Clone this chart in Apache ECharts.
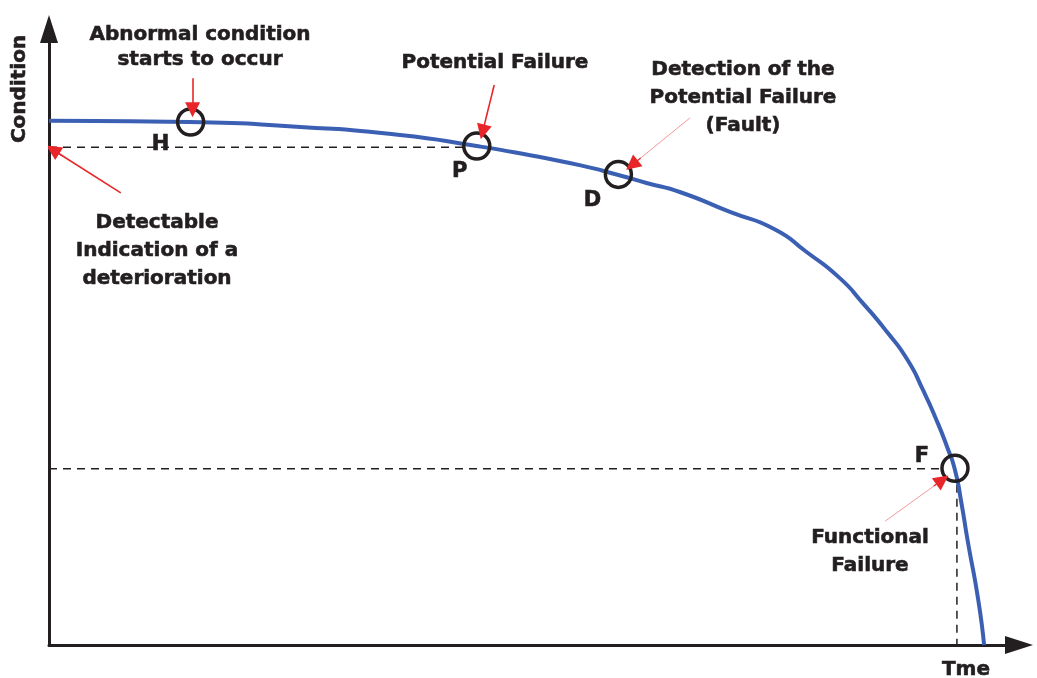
<!DOCTYPE html>
<html>
<head>
<meta charset="UTF-8">
<title>P-F curve</title>
<script src="https://cdn.jsdelivr.net/npm/echarts@6/dist/echarts.min.js" type="text/javascript"></script>
<style type="text/css">
    html,body{
        margin:0;
        height:100%;
        background:#fff;
    }
</style>
</head>
<body>
<div id="container" style="width:1037px;height:678px"></div>
<script type="text/javascript">
	// time (0-100) / condition (0-100)
	var curveTime = [0, 14.5, 25.9, 36.2, 44.1, 49.6, 54.7, 58.7, 61.6, 65.1, 70.2, 74.8, 78.1, 81.5, 83.9, 86.4, 88.5, 90.1, 91.5, 92.6, 93.4, 94.1, 94.7, 95.8, 96.4];
	var curveCond = [85.1, 84.9, 84.1, 82.8, 81.0, 79.5, 77.9, 76.3, 75.0, 73.5, 70.3, 67.5, 63.8, 59.6, 55.5, 50.8, 46.3, 41.4, 36.5, 32.1, 28.4, 22.7, 17.0, 7.3, 0];

	// the marked points on the curve
	var markerNames = ['H', 'P', 'D', 'F'];
	var markerTime = [14.6, 44.1, 58.7, 93.4];
	var markerCond = [84.9, 81.0, 76.4, 28.7];

	// dashed guide lines [x1, y1, x2, y2]
	var guides = [
		[0, 80.8, 42.7, 80.8],
		[0, 28.6, 92.2, 28.6],
		[93.6, 26.0, 93.6, 0]
	];

	// red pointers [x1, y1, x2, y2]
	var pointers = [
		[14.8, 92.0, 14.8, 86.9],
		[45.9, 90.9, 44.7, 83.3],
		[66.1, 85.6, 60.1, 77.9],
		[7.4, 73.4, 0.4, 80.4],
		[86.2, 20.1, 92.1, 26.8]
	];
	var pointerThin = [false, false, true, false, true];

	var ink = '#231f20';
	var red = '#e8262a';
	var font = 'bold 20px "DejaVu Sans"';

	var chart = echarts.init(document.getElementById('container'));

	var series = [];
	// guides
	guides.forEach(function (g) {
		series.push({
			type: 'line',
			data: [[g[0], g[1]], [g[2], g[3]]],
			showSymbol: false,
			silent: true,
			lineStyle: { color: ink, width: 1.5, type: [8, 6] },
			z: 1
		});
	});
	// curve
	series.push({
		type: 'line',
		data: curveTime.map(function (t, i) { return [t, curveCond[i]]; }),
		smooth: 0.6,
		showSymbol: false,
		lineStyle: { color: '#3b60b3', width: 4 },
		z: 2
	});
	// circles
	series.push({
		type: 'scatter',
		data: markerTime.map(function (t, i) { return [t, markerCond[i], markerNames[i]]; }),
		symbol: 'circle',
		symbolSize: 26,
		itemStyle: { color: 'rgba(0,0,0,0)', borderColor: ink, borderWidth: 3.5, opacity: 1 },
		label: {
			show: true,
			position: 'inside',
			formatter: function (p) { return p.value[2]; },
			color: ink,
			fontFamily: 'DejaVu Sans',
			fontWeight: 'bold',
			fontSize: 21,
			textBorderColor: ink,
			textBorderWidth: 0.6
		},
		labelLayout: function (p) {
			var off = { H: [-30, 23], P: [-17, 26], D: [-26, 26], F: [-33, -12] }[markerNames[p.dataIndex]];
			return { x: p.rect.x + p.rect.width / 2 + off[0], y: p.rect.y + p.rect.height / 2 + off[1], align: 'center', verticalAlign: 'middle' };
		},
		z: 4
	});
	// pointers: thin ones get a pale shaft and a red head
	series.push({
		type: 'lines',
		coordinateSystem: 'cartesian2d',
		symbol: 'none',
		data: pointers.map(function (p, i) {
			return {
				coords: [[p[0], p[1]], [p[2], p[3]]],
				lineStyle: pointerThin[i] ? { color: '#f4999a', width: 1 } : { color: red, width: 1.6 }
			};
		}),
		lineStyle: { opacity: 1 },
		z: 5
	});
	series.push({
		type: 'lines',
		coordinateSystem: 'cartesian2d',
		symbol: ['none', 'triangle'],
		symbolSize: [11, 15],
		data: pointers.map(function (p) {
			var k = 0.85;
			return { coords: [[p[0] + (p[2] - p[0]) * k, p[1] + (p[3] - p[1]) * k], [p[2], p[3]]] };
		}),
		lineStyle: { color: red, width: 1.2, opacity: 1 },
		z: 6
	});

	function txt(s, x, y, extra) {
		var o = { type: 'text', x: x, y: y, style: { text: s, font: font, fill: ink, stroke: ink, lineWidth: 0.6, align: 'center', verticalAlign: 'middle' } };
		if (extra) { for (var k in extra) o[k] = extra[k]; }
		return o;
	}

	var option = {
		animation: false,
		backgroundColor: '#fff',
		grid: { left: 49, right: 18, top: 29, bottom: 33 },
		xAxis: {
			type: 'value', min: 0, max: 100,
			axisLine: { show: true, symbol: ['none', 'triangle'], symbolSize: [18, 28], lineStyle: { color: ink, width: 3 } },
			axisTick: { show: false }, axisLabel: { show: false }, splitLine: { show: false }
		},
		yAxis: {
			type: 'value', min: 0, max: 100,
			axisLine: { show: true, symbol: ['none', 'triangle'], symbolSize: [18, 28], lineStyle: { color: ink, width: 3 } },
			axisTick: { show: false }, axisLabel: { show: false }, splitLine: { show: false }
		},
		graphic: [
			txt('Abnormal condition', 200, 35),
			txt('starts to occur', 200, 60),
			txt('Potential Failure', 495, 63),
			txt('Detection of the', 743, 70),
			txt('Potential Failure', 743, 98),
			txt('(Fault)', 743, 126),
			txt('Detectable', 157, 223),
			txt('Indication of a', 157, 251),
			txt('deterioration', 157, 279),
			txt('Functional', 870, 538),
			txt('Failure', 870, 566),
			txt('Tme', 966, 670),
			txt('Condition', 20, 89, { rotation: Math.PI / 2 })
		],
		series: series
	};
	chart.setOption(option);
</script>
</body>
</html>
